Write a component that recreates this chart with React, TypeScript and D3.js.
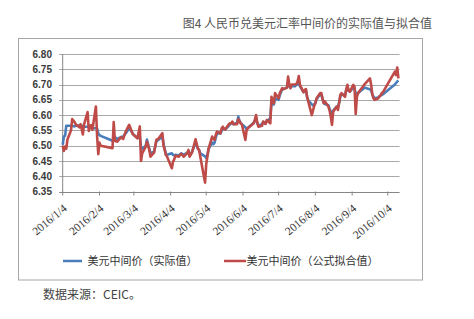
import React from "react";
import * as d3 from "d3";

const dates = [
  "2016-01-04","2016-01-05","2016-01-06","2016-01-07","2016-01-08","2016-01-11","2016-01-12","2016-01-14","2016-01-15","2016-01-18",
  "2016-01-19","2016-01-20","2016-01-21","2016-01-22","2016-01-25","2016-01-26","2016-01-27","2016-01-28","2016-01-29","2016-02-01",
  "2016-02-02","2016-02-03","2016-02-04","2016-02-05","2016-02-15","2016-02-16","2016-02-17","2016-02-19","2016-02-22","2016-02-24",
  "2016-02-26","2016-02-29","2016-03-01","2016-03-03","2016-03-04","2016-03-07","2016-03-09","2016-03-10","2016-03-11","2016-03-14",
  "2016-03-15","2016-03-17","2016-03-18","2016-03-21","2016-03-23","2016-03-25","2016-03-28","2016-03-29","2016-03-30","2016-03-31",
  "2016-04-01","2016-04-05","2016-04-06","2016-04-07","2016-04-08","2016-04-11","2016-04-12","2016-04-13","2016-04-15","2016-04-18",
  "2016-04-19","2016-04-20","2016-04-22","2016-04-25","2016-04-27","2016-04-28","2016-04-29","2016-05-03","2016-05-04","2016-05-05",
  "2016-05-06","2016-05-09","2016-05-10","2016-05-11","2016-05-12","2016-05-13","2016-05-16","2016-05-17","2016-05-18","2016-05-19",
  "2016-05-20","2016-05-23","2016-05-24","2016-05-25","2016-05-26","2016-05-27","2016-05-30","2016-05-31","2016-06-01","2016-06-02",
  "2016-06-03","2016-06-06","2016-06-07","2016-06-08","2016-06-13","2016-06-14","2016-06-15","2016-06-16","2016-06-17","2016-06-20",
  "2016-06-21","2016-06-22","2016-06-23","2016-06-24","2016-06-27","2016-06-28","2016-06-29","2016-06-30","2016-07-01","2016-07-04",
  "2016-07-05","2016-07-06","2016-07-07","2016-07-08","2016-07-11","2016-07-12","2016-07-13","2016-07-14","2016-07-15","2016-07-18",
  "2016-07-19","2016-07-20","2016-07-21","2016-07-22","2016-07-25","2016-07-26","2016-07-27","2016-07-28","2016-07-29","2016-08-01",
  "2016-08-02","2016-08-03","2016-08-04","2016-08-05","2016-08-08","2016-08-09","2016-08-10","2016-08-11","2016-08-12","2016-08-15",
  "2016-08-16","2016-08-17","2016-08-18","2016-08-19","2016-08-22","2016-08-23","2016-08-24","2016-08-25","2016-08-26","2016-08-29",
  "2016-08-30","2016-08-31","2016-09-01","2016-09-02","2016-09-05","2016-09-06","2016-09-07","2016-09-08","2016-09-09","2016-09-12",
  "2016-09-13","2016-09-14","2016-09-19","2016-09-20","2016-09-21","2016-09-22","2016-09-23","2016-09-26","2016-09-27","2016-09-28",
  "2016-09-29","2016-09-30","2016-10-10","2016-10-11","2016-10-12","2016-10-13",
];

// 美元中间价（公式拟合值）
const fitted = [
  6.500,6.483,6.497,6.490,6.520,6.550,6.587,6.577,6.570,6.560,
  6.570,6.555,6.537,6.570,6.610,6.548,6.565,6.567,6.552,6.628,
  6.530,6.472,6.510,6.500,6.492,6.577,6.516,6.513,6.527,6.522,
  6.545,6.568,6.559,6.538,6.535,6.524,6.563,6.450,6.475,6.497,
  6.513,6.486,6.464,6.477,6.519,6.524,6.541,6.500,6.486,6.470,
  6.464,6.426,6.448,6.455,6.467,6.464,6.470,6.473,6.464,6.475,
  6.486,6.464,6.477,6.521,6.490,6.486,6.464,6.379,6.440,6.465,
  6.490,6.530,6.522,6.519,6.535,6.546,6.540,6.557,6.562,6.555,
  6.553,6.570,6.573,6.573,6.579,6.570,6.570,6.587,6.580,6.573,
  6.570,6.519,6.550,6.557,6.573,6.585,6.600,6.575,6.562,6.565,
  6.579,6.575,6.571,6.584,6.573,6.660,6.645,6.639,6.672,6.655,
  6.672,6.680,6.688,6.685,6.690,6.726,6.700,6.688,6.700,6.700,
  6.702,6.710,6.728,6.699,6.675,6.682,6.685,6.660,6.645,6.600,
  6.615,6.630,6.639,6.655,6.672,6.672,6.655,6.639,6.645,6.628,
  6.615,6.595,6.568,6.611,6.628,6.617,6.640,6.666,6.672,6.660,
  6.685,6.699,6.680,6.677,6.699,6.693,6.604,6.660,6.672,6.688,
  6.693,6.699,6.720,6.700,6.668,6.655,6.650,6.655,6.660,6.665,
  6.672,6.675,6.742,6.731,6.756,6.720,
];

// 美元中间价（实际值）
const actual = [
  6.503,6.530,6.532,6.565,6.565,6.565,6.565,6.563,6.565,6.566,
  6.566,6.565,6.564,6.562,6.562,6.560,6.559,6.558,6.557,6.557,
  6.556,6.540,6.535,6.532,6.516,6.525,6.528,6.522,6.528,6.530,
  6.540,6.556,6.553,6.540,6.535,6.525,6.530,6.495,6.490,6.500,
  6.520,6.490,6.475,6.480,6.515,6.520,6.530,6.505,6.490,6.470,
  6.470,6.475,6.470,6.468,6.470,6.468,6.472,6.475,6.470,6.477,
  6.480,6.468,6.480,6.510,6.490,6.485,6.475,6.465,6.460,6.470,
  6.490,6.510,6.505,6.510,6.525,6.540,6.540,6.550,6.555,6.555,
  6.553,6.565,6.570,6.573,6.576,6.570,6.575,6.595,6.582,6.575,
  6.570,6.560,6.555,6.558,6.575,6.582,6.590,6.575,6.565,6.570,
  6.578,6.575,6.572,6.580,6.590,6.640,6.635,6.635,6.655,6.650,
  6.665,6.675,6.685,6.685,6.690,6.705,6.695,6.690,6.695,6.695,
  6.700,6.700,6.705,6.695,6.675,6.680,6.683,6.660,6.648,6.635,
  6.632,6.635,6.640,6.652,6.668,6.668,6.652,6.640,6.636,6.632,
  6.620,6.610,6.605,6.615,6.628,6.625,6.640,6.660,6.668,6.665,
  6.682,6.690,6.680,6.677,6.690,6.685,6.672,6.670,6.672,6.682,
  6.685,6.690,6.685,6.680,6.668,6.660,6.655,6.658,6.662,6.664,
  6.666,6.668,6.700,6.705,6.710,6.713,
];

const yTicks = [6.35, 6.40, 6.45, 6.50, 6.55, 6.60, 6.65, 6.70, 6.75, 6.80];
const xTickLabels = ["2016/1/4","2016/2/4","2016/3/4","2016/4/4","2016/5/4","2016/6/4","2016/7/4","2016/8/4","2016/9/4","2016/10/4"];
const seriesNames = ["美元中间价（实际值）", "美元中间价（公式拟合值）"];
const title = "图4 人民币兑美元汇率中间价的实际值与拟合值";
const source = "数据来源：CEIC。";

const BLUE = "#4a7ebb";
const RED = "#be4b48";

export default function App() {
  const parse = d3.timeParse("%Y-%m-%d");
  const parseTick = d3.timeParse("%Y/%m/%d");
  const left = 62.7, right = 399.6, top = 54, bottom = 191.5;
  const x = d3.scaleTime()
    .domain([parse("2016-01-04") as Date, parse("2016-10-14") as Date])
    .range([left, right]);
  const y = d3.scaleLinear().domain([6.35, 6.8]).range([bottom, top]);

  const pts = dates.map((d, i) => ({ t: parse(d) as Date, a: actual[i], f: fitted[i] }));
  const lineA = d3.line<any>().x((p) => x(p.t)).y((p) => y(p.a));
  const lineF = d3.line<any>().x((p) => x(p.t)).y((p) => y(p.f));

  const cjk = "'Noto Sans CJK SC', 'Noto Sans', sans-serif";

  return (
    <svg width={474} height={319} style={{ position: "absolute", left: 0, top: 0, background: "#fff" }}>
      <rect x={0} y={0} width={474} height={319} fill="#fff" />
      <text x={432} y={28} textAnchor="end" fontSize={12} fill="#555" fontFamily={cjk}>{title}</text>
      <rect x={18.5} y={38.5} width={404} height={241.5} fill="#fff" stroke="#a6a6a6" strokeWidth={1} />

      {yTicks.map((v) => (
        <g key={v}>
          <line x1={left - 3.5} x2={right} y1={Math.round(y(v)) + 0.5} y2={Math.round(y(v)) + 0.5}
            stroke={v === 6.35 ? "#868686" : "#a8a8a8"} strokeWidth={1} />
          <text x={52} y={y(v)} dy="0.36em" textAnchor="end" fontSize={10} fontWeight="bold"
            fontFamily="'Liberation Sans', Arial, sans-serif" fill="#3a3a3a">{v.toFixed(2)}</text>
        </g>
      ))}
      <line x1={left} x2={left} y1={top} y2={bottom + 0.5} stroke="#868686" strokeWidth={1} />

      {xTickLabels.map((lab) => {
        const tx = x(parseTick(lab) as Date);
        return (
          <g key={lab}>
            <line x1={tx} x2={tx} y1={bottom} y2={bottom + 4} stroke="#868686" strokeWidth={1} />
            <text transform={`translate(${tx + 5},${bottom + 18}) rotate(-40)`} textAnchor="end"
              fontSize={11.5} fontFamily="'Liberation Serif', 'Times New Roman', serif" fill="#333">{lab}</text>
          </g>
        );
      })}

      <path d={lineA(pts) || ""} fill="none" stroke={BLUE} strokeWidth={2.6} strokeLinejoin="round" />
      <path d={lineF(pts) || ""} fill="none" stroke={RED} strokeWidth={2.6} strokeLinejoin="round" />

      <line x1={63} x2={82} y1={261} y2={261} stroke={BLUE} strokeWidth={2.5} />
      <text x={87.5} y={265} fontSize={11} fontFamily={cjk} fill="#333">{seriesNames[0]}</text>
      <line x1={224} x2={246} y1={261} y2={261} stroke={RED} strokeWidth={2.5} />
      <text x={246.5} y={265} fontSize={11} fontFamily={cjk} fill="#333">{seriesNames[1]}</text>

      <text x={43} y={299} fontSize={12} fontFamily={cjk} fill="#444">{source}</text>
    </svg>
  );
}
